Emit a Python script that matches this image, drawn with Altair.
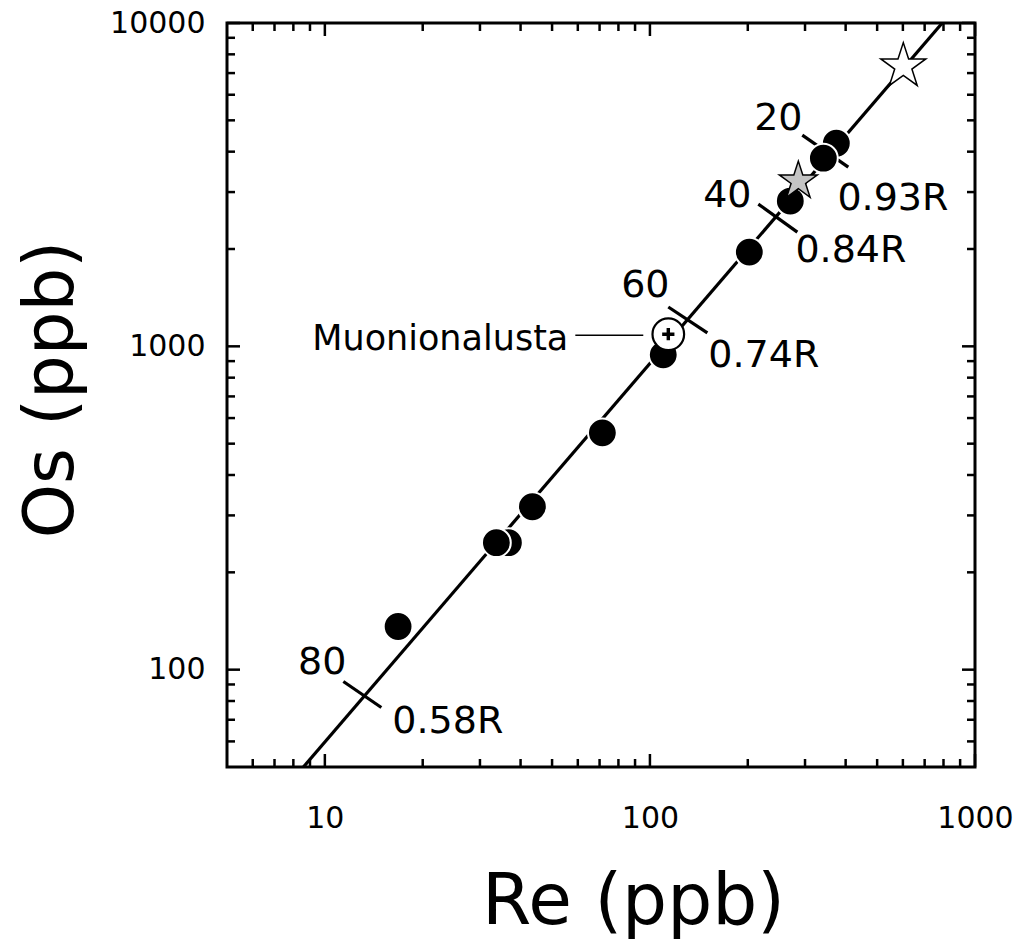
import altair as alt
import pandas as pd

FONT = "DejaVu Sans"

# ---- data (ppb) ----
# black samples, listed in drawing order (later ones on top)
re_pts = [16.8, 36.7, 33.7, 43.5, 71.4, 109.9, 202.2, 270.3, 374.5, 341.6]
os_pts = [136, 247, 247, 319, 540, 941, 1956, 2813, 4250, 3819]

muon_re = [113.9]
muon_os = [1090]
grey_star_re = [286.1]
grey_star_os = [3243]
open_star_re = [601.8]
open_star_os = [7348]

# model line
line_re = [8.59, 793]
line_os = [50, 10000]

# crystallization marks along the line
cross_re1 = [11.40, 113.9, 215.5, 294.3]
cross_os1 = [91.9, 1323, 2754, 4499]
cross_re2 = [14.92, 150.2, 284.1, 407.6]
cross_os2 = [76.4, 1100, 2256, 3583]

pct_labels = ["80", "60", "40", "20"]
pct_re = [9.82, 96.8, 173, 248.3]
pct_os = [105.2, 1537, 2915, 5058]

ratio_labels = ["0.58R", "0.74R", "0.84R", "0.93R"]
ratio_re = [16.13, 151.2, 280.2, 377.3]
ratio_os = [68.8, 934, 1971, 2863]

muon_label = ["Muonionalusta"]
muon_label_re = [56.1]
muon_label_os = [1054]
leader_re = [58.95]
leader_re2 = [95.4]
leader_os = [1082]

x_labels = [10, 100, 1000]
y_labels = [100, 1000, 10000]
x_major = [10, 100, 1000]
x_minor = [6, 7, 8, 9, 20, 30, 40, 50, 60, 70, 80, 90,
           200, 300, 400, 500, 600, 700, 800, 900]
y_major = [100, 1000, 10000]
y_minor = [60, 70, 80, 90, 200, 300, 400, 500, 600, 700, 800, 900,
           2000, 3000, 4000, 5000, 6000, 7000, 8000, 9000]

W, H = 748, 744
MAJ, MIN = 13, 8

STAR = ("M0,-1L0.2245,-0.309L0.9511,-0.309L0.3633,0.118L0.5878,0.809L0,0.382"
        "L-0.5878,0.809L-0.3633,0.118L-0.9511,-0.309L-0.2245,-0.309Z")
PLUS = ("M-1,-0.28L1,-0.28L1,0.28L-1,0.28Z"
        "M-0.28,-1L0.28,-1L0.28,1L-0.28,1Z")

xs = alt.Scale(type="log", domain=[5, 1000], nice=False)
ys = alt.Scale(type="log", domain=[50, 10000], nice=False)

x_axis = alt.Axis(values=x_labels, format="d", title="Re (ppb)", ticks=False, tickSize=0,
                  domain=False, grid=False, labelFlush=False, labelOverlap=False,
                  labelFont=FONT, labelFontSize=30, labelColor="black",
                  labelBaseline="alphabetic", labelPadding=60,
                  titleFont=FONT, titleFontSize=71, titleFontWeight="normal", titleColor="black",
                  titleX=406, titleY=156, titleAlign="center", titleBaseline="alphabetic")
y_axis = alt.Axis(values=y_labels, format="d", title="Os (ppb)", ticks=False, tickSize=0,
                  domain=False, grid=False, labelFlush=False, labelOverlap=False,
                  labelFont=FONT, labelFontSize=30, labelColor="black",
                  labelAlign="right", labelBaseline="middle", labelPadding=22,
                  titleFont=FONT, titleFontSize=69, titleFontWeight="normal", titleColor="black",
                  titleAngle=270, titleX=-155, titleY=366, titleAlign="center",
                  titleBaseline="alphabetic")

line_df = pd.DataFrame({"Re": line_re, "Os": line_os})
line = alt.Chart(line_df).mark_line(color="black", strokeWidth=3.2, clip=True).encode(
    x=alt.X("Re:Q", scale=xs, axis=x_axis),
    y=alt.Y("Os:Q", scale=ys, axis=y_axis),
)

cross_df = pd.DataFrame({"Re": cross_re1, "Os": cross_os1, "Re2": cross_re2, "Os2": cross_os2})
crosses = alt.Chart(cross_df).mark_rule(color="black", strokeWidth=3.2).encode(
    x="Re:Q", y="Os:Q", x2="Re2:Q", y2="Os2:Q")

leader_df = pd.DataFrame({"Re": leader_re, "Re2": leader_re2, "Os": leader_os})
leader = alt.Chart(leader_df).mark_rule(color="black", strokeWidth=1.3).encode(
    x="Re:Q", x2="Re2:Q", y="Os:Q")

pts_df = pd.DataFrame({"Re": re_pts, "Os": os_pts})
pts = alt.Chart(pts_df).mark_point(shape="circle", filled=True, fill="black", stroke="white",
                                   strokeWidth=2, size=830, opacity=1).encode(
    x="Re:Q", y="Os:Q")

gstar_df = pd.DataFrame({"Re": grey_star_re, "Os": grey_star_os})
gstar = alt.Chart(gstar_df).mark_point(shape=STAR, filled=True, fill="#c4c4c4", stroke="black",
                                       strokeWidth=1.5, size=1600, opacity=1).encode(
    x="Re:Q", y="Os:Q")

ostar_df = pd.DataFrame({"Re": open_star_re, "Os": open_star_os})
ostar = alt.Chart(ostar_df).mark_point(shape=STAR, filled=True, fill="white", stroke="black",
                                       strokeWidth=1.5, size=2240, opacity=1).encode(
    x="Re:Q", y="Os:Q")

muon_df = pd.DataFrame({"Re": muon_re, "Os": muon_os})
muon = alt.Chart(muon_df).mark_point(shape="circle", filled=True, fill="white", stroke="black",
                                     strokeWidth=2.2, size=1000, opacity=1).encode(
    x="Re:Q", y="Os:Q")
muon_plus = alt.Chart(muon_df).mark_point(shape=PLUS, filled=True, fill="black",
                                          strokeWidth=0, size=150, opacity=1).encode(
    x="Re:Q", y="Os:Q")

pct_df = pd.DataFrame({"Re": pct_re, "Os": pct_os, "t": pct_labels})
pct = alt.Chart(pct_df).mark_text(font=FONT, fontSize=38, color="black",
                                  align="center", baseline="middle").encode(
    x="Re:Q", y="Os:Q", text="t:N")

ratio_df = pd.DataFrame({"Re": ratio_re, "Os": ratio_os, "t": ratio_labels})
ratio = alt.Chart(ratio_df).mark_text(font=FONT, fontSize=38, color="black",
                                      align="left", baseline="middle").encode(
    x="Re:Q", y="Os:Q", text="t:N")

mlab_df = pd.DataFrame({"Re": muon_label_re, "Os": muon_label_os, "t": muon_label})
mlab = alt.Chart(mlab_df).mark_text(font=FONT, fontSize=35, color="black",
                                    align="right", baseline="middle").encode(
    x="Re:Q", y="Os:Q", text="t:N")

# inward axis ticks on all four sides
def xticks(vals, length):
    df = pd.DataFrame({"Re": vals})
    bot = alt.Chart(df).mark_rule(color="black", strokeWidth=2.5).encode(
        x="Re:Q", y=alt.value(H), y2=alt.value(H - length))
    top = alt.Chart(df).mark_rule(color="black", strokeWidth=2.5).encode(
        x="Re:Q", y=alt.value(0), y2=alt.value(length))
    return [bot, top]

def yticks(vals, length):
    df = pd.DataFrame({"Os": vals})
    left = alt.Chart(df).mark_rule(color="black", strokeWidth=2.5).encode(
        y="Os:Q", x=alt.value(0), x2=alt.value(length))
    right = alt.Chart(df).mark_rule(color="black", strokeWidth=2.5).encode(
        y="Os:Q", x=alt.value(W), x2=alt.value(W - length))
    return [left, right]

tick_layers = xticks(x_major, MAJ) + xticks(x_minor, MIN) + yticks(y_major, MAJ) + yticks(y_minor, MIN)

chart = alt.layer(
    line, *tick_layers, crosses, leader, pts, gstar, ostar, muon, muon_plus, pct, ratio, mlab
).properties(
    width=W, height=H,
    background="white",
    autosize=alt.AutoSizeParams(type="none"),
    padding={"left": 219, "top": 15, "right": 38, "bottom": 175},
).configure_view(
    stroke="black", strokeWidth=3
)

chart.save("out.html", embed_options={"renderer": "svg", "actions": False})
